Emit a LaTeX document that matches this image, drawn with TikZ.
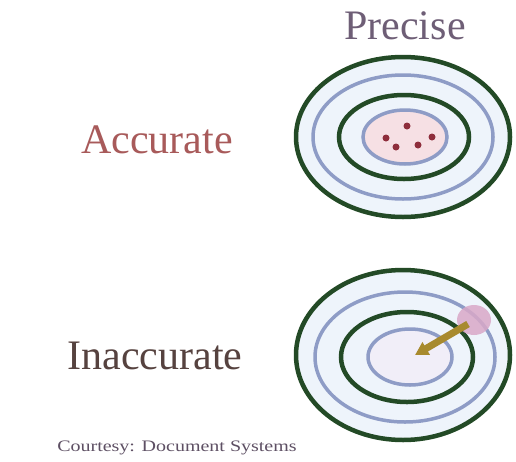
\documentclass[tikz,border=0pt]{standalone}
\usepackage{fontspec}
\setmainfont{Liberation Serif}
\usetikzlibrary{arrows.meta}
\definecolor{ringgreen}{HTML}{234A26}
\definecolor{ringblue}{HTML}{8E9CC6}
\definecolor{gapfill}{HTML}{EEF4FB}
\definecolor{pinkfill}{HTML}{F6E0E4}
\definecolor{lavfill}{HTML}{F1EEF8}
\definecolor{dotred}{HTML}{8E2E3C}
\definecolor{precisecol}{HTML}{6E5E76}
\definecolor{accol}{HTML}{A85A5A}
\definecolor{inaccol}{HTML}{56423F}
\definecolor{capcol}{HTML}{5E5064}
\definecolor{dartcol}{HTML}{A88A2E}
\definecolor{fletch}{HTML}{D9A8C8}
\tikzset{
  greenring/.style={draw=ringgreen, line width=4.5pt},
  bluering/.style={draw=ringblue, line width=3.5pt},
  label/.style={inner sep=0pt, font=\fontsize{42}{42}\selectfont},
  hitdot/.style={circle, fill=dotred, minimum size=7pt, inner sep=0pt},
}
\begin{document}
\begin{tikzpicture}[x=1pt,y=-1pt]
\useasboundingbox (0,0) rectangle (516,461);
\fill[white] (0,0) rectangle (516,461);
% top target
\fill[gapfill] (403,137) ellipse [x radius=107, y radius=80];
\fill[pinkfill] (405,137) ellipse [x radius=42, y radius=27];
\draw[greenring] (403,137) ellipse [x radius=107, y radius=80];
\draw[bluering] (403,137) ellipse [x radius=90, y radius=62];
\draw[greenring] (404,137) ellipse [x radius=65, y radius=42];
\draw[bluering] (405,137) ellipse [x radius=42, y radius=27];
\node[hitdot] (d1) at (407,126) {};
\node[hitdot] (d2) at (386,138) {};
\node[hitdot] (d3) at (396,147) {};
\node[hitdot] (d4) at (418,145) {};
\node[hitdot] (d5) at (432,137) {};
% bottom target
\fill[gapfill] (403,355) ellipse [x radius=107, y radius=85];
\fill[lavfill] (410,355) ellipse [x radius=42, y radius=28];
\draw[greenring] (403,355) ellipse [x radius=107, y radius=85];
\draw[bluering] (405,357) ellipse [x radius=90, y radius=65];
\draw[greenring] (407,357) ellipse [x radius=66, y radius=45];
\draw[bluering] (410,357) ellipse [x radius=42, y radius=28];
% dart
\coordinate (tip) at (415,355);
\coordinate (tail) at (468,324);
\fill[fletch, opacity=0.85] (474,320) ellipse [x radius=17, y radius=15];
\draw[dartcol, line width=7pt, -{Triangle[length=13pt,width=14pt]}] (tail) -- (tip);
% labels
\node[label, text=precisecol] (precise) at (405,26) {Precise};
\node[label, text=accol] (accurate) at (157,140) {Accurate};
\node[label, text=inaccol] (inaccurate) at (155,356) {Inaccurate};
\node[inner sep=0pt, text=capcol, font=\fontsize{16}{16}\selectfont, xscale=1.25, anchor=west] (caption) at (57,448) {Courtesy: Document Systems};
\end{tikzpicture}
\end{document}
